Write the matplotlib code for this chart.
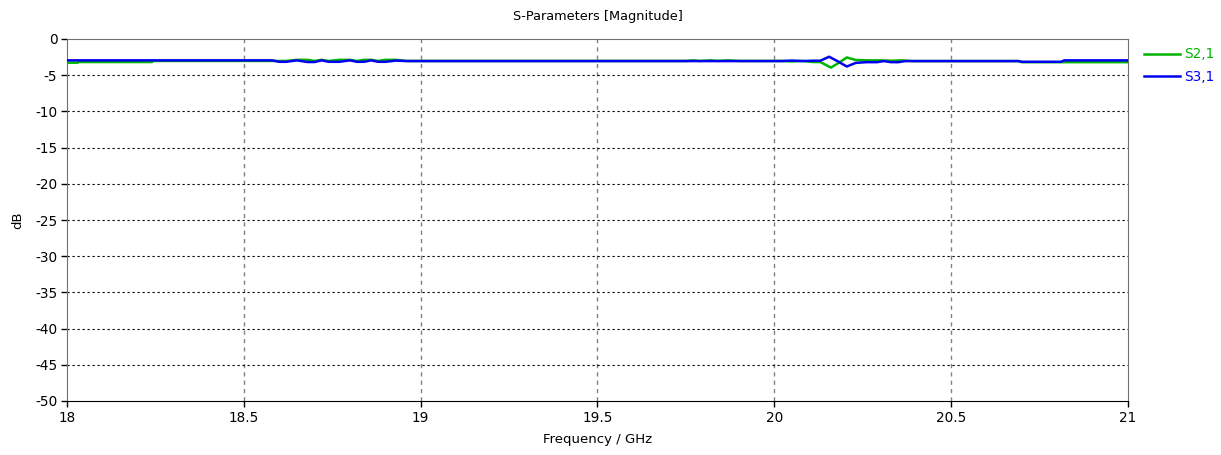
import matplotlib
matplotlib.use("Agg")
import matplotlib.pyplot as plt

# S2,1 (green)
f_s21 = [18.00, 18.03, 18.031, 18.24, 18.245, 18.58, 18.62, 18.65, 18.68, 18.70, 18.72, 18.74,
         18.77, 18.80, 18.82, 18.84, 18.86, 18.88, 18.90, 18.93, 18.96, 19.00, 19.75, 19.77,
         19.79, 19.82, 19.84, 19.87, 19.90, 20.02, 20.05, 20.08, 20.11, 20.13, 20.16, 20.185,
         20.205, 20.23, 20.26, 20.30, 20.33, 20.36, 20.39, 20.69, 20.70, 21.00]
s21 = [-3.27, -3.27, -3.18, -3.18, -3.03, -3.03, -3.03, -2.88, -2.88, -3.03, -2.88, -3.03,
       -2.88, -2.88, -3.03, -2.88, -2.88, -3.03, -2.88, -2.88, -3.03, -3.03, -3.03, -2.95,
       -3.03, -2.95, -3.03, -2.95, -3.03, -3.03, -3.10, -3.03, -3.18, -3.18, -3.95, -3.20,
       -2.55, -2.90, -2.95, -2.95, -3.00, -2.95, -3.05, -3.05, -3.20, -3.20]

# S3,1 (blue)
f_s31 = [18.00, 18.58, 18.60, 18.62, 18.65, 18.68, 18.70, 18.72, 18.74, 18.77, 18.80, 18.82,
         18.84, 18.86, 18.88, 18.90, 18.93, 18.96, 19.00, 20.02, 20.05, 20.08, 20.11, 20.13,
         20.155, 20.18, 20.205, 20.23, 20.26, 20.29, 20.31, 20.33, 20.35, 20.37, 20.39, 20.69,
         20.70, 20.81, 20.82, 21.00]
s31 = [-2.95, -2.95, -3.15, -3.15, -2.95, -3.18, -3.18, -2.95, -3.15, -3.15, -2.95, -3.15,
       -3.15, -2.95, -3.15, -3.15, -2.98, -3.05, -3.05, -3.05, -2.98, -3.05, -3.00, -3.00,
       -2.45, -3.10, -3.80, -3.30, -3.20, -3.20, -3.05, -3.20, -3.20, -3.05, -3.05, -3.05,
       -3.15, -3.15, -2.95, -2.95]

xticks = [18, 18.5, 19, 19.5, 20, 20.5, 21]
xticklabels = ["18", "18.5", "19", "19.5", "20", "20.5", "21"]
yticks = [0, -5, -10, -15, -20, -25, -30, -35, -40, -45, -50]

plt.rcParams['font.family'] = ['DejaVu Sans']
fig = plt.figure(figsize=(12.21, 4.55), dpi=100)
ax = fig.add_axes([67/1221, 1 - 401/455, (1128 - 67)/1221, (401 - 39)/455])

l1, = ax.plot(f_s21, s21, color="#00B400", lw=1.8, label="S2,1", zorder=3)
l2, = ax.plot(f_s31, s31, color="#0000F0", lw=1.8, label="S3,1", zorder=4)

ax.set_xlim(18, 21)
ax.set_ylim(-50, 0)
ax.set_xticks(xticks)
ax.set_xticklabels(xticklabels)
ax.set_yticks(yticks)
ax.set_yticklabels([str(v) for v in yticks])
ax.tick_params(direction="out", length=4, width=1, labelsize=9.8, colors="#000000", pad=3)

for x in xticks[1:-1]:
    ax.axvline(x, color="#808080", lw=1, ls=(0, (3, 3)), zorder=1)
for y in yticks[1:-1]:
    ax.axhline(y, color="#000000", lw=0.8, ls=(0, (2, 2.5)), zorder=1)

for side in ["top", "right", "left"]:
    ax.spines[side].set_color("#707070")
ax.spines["bottom"].set_color("#000000")

ax.set_title("S-Parameters [Magnitude]", fontsize=9.3, pad=14)
ax.set_xlabel("Frequency / GHz", fontsize=9.5, labelpad=6)
ax.set_ylabel("dB", fontsize=9.5, labelpad=8)

leg = fig.legend(handles=[l1, l2], loc="upper left", bbox_to_anchor=(1139/1221, 1 - 42/455),
                 frameon=False, fontsize=9.8, handlelength=2.6, handletextpad=0.3,
                 labelspacing=0.62, borderaxespad=0)
for t, c in zip(leg.get_texts(), ["#00B400", "#0000F0"]):
    t.set_color(c)

fig.savefig("out.png", dpi=100)
